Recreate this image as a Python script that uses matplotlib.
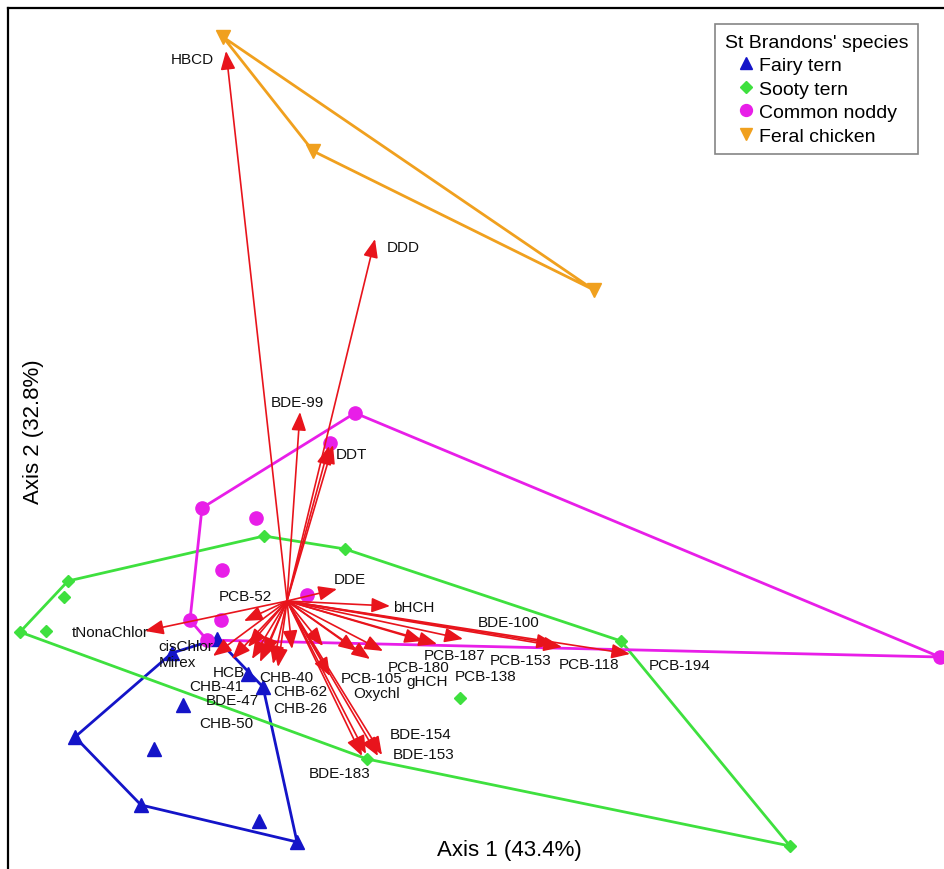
import numpy as np
import matplotlib
matplotlib.use("Agg")
import matplotlib.pyplot as plt
from matplotlib.lines import Line2D

plt.rcParams["font.family"] = ["Liberation Sans", "DejaVu Sans"]

# sample scores on the first two axes, per species
fairy_x = [-0.70, -1.15, -0.39, -0.24, -1.04, -2.12, -1.33, -1.46, -0.28, 0.10]
fairy_y = [-0.38, -0.52, -0.73, -0.86, -1.04, -1.36, -1.48, -2.04, -2.20, -2.41]

sooty_x = [-2.67, -2.19, -2.23, -2.41, -0.23, 0.58, 3.34, 1.73, 0.80, 5.03]
sooty_y = [-0.31, 0.20, 0.04, -0.30, 0.65, 0.52, -0.40, -0.97, -1.58, -2.45]

noddy_x = [0.68, 0.43, -0.85, -0.31, -0.65, -0.97, -0.66, 0.20, -0.80, 6.53]
noddy_y = [1.88, 1.58, 0.93, 0.83, 0.31, -0.19, -0.19, 0.06, -0.39, -0.56]

chicken_x = [-0.64, 0.26, 3.07]
chicken_y = [5.64, 4.50, 3.11]

# contaminant loadings (arrow tips)
var_names = ["HBCD", "DDD", "BDE-99", "DDT", "DDE", "bHCH", "PCB-52", "tNonaChlor",
             "cisChlor", "Mirex", "HCB", "CHB-41", "BDE-47", "CHB-50", "CHB-40",
             "CHB-62", "CHB-26", "PCB-105", "Oxychl", "gHCH", "PCB-180", "PCB-187",
             "PCB-138", "PCB-153", "BDE-100", "PCB-118", "PCB-194", "BDE-183",
             "BDE-154", "BDE-153", "CHB-32", "DDT-2", "BDE-28"]
var_x = [-0.61, 0.88, 0.13, 0.42, 0.50, 1.03, -0.43, -1.42,
         -0.74, -0.55, -0.39, -0.35, -0.27, -0.23, -0.14,
         -0.09, 0.05, 0.70, 0.43, 0.96, 0.83, 1.50,
         1.36, 1.76, 2.68, 2.75, 3.43, 0.75,
         0.79, 0.95, 0.36, 0.46, 0.91]
var_y = [5.50, 3.62, 1.89, 1.55, 0.12, -0.05, -0.20, -0.30,
         -0.55, -0.58, -0.46, -0.58, -0.61, -0.55, -0.63,
         -0.66, -0.48, -0.50, -0.75, -0.50, -0.58, -0.43,
         -0.40, -0.38, -0.43, -0.46, -0.53, -1.55,
         -1.53, -1.54, -0.45, 1.56, -1.55]

# where each variable name is written
label_pos = {
    "HBCD": (-0.95, 5.42), "DDD": (1.16, 3.54), "BDE-99": (0.10, 1.99),
    "DDT": (0.64, 1.47), "DDE": (0.63, 0.22), "bHCH": (1.27, -0.06),
    "PCB-52": (-0.42, 0.05), "tNonaChlor": (-1.77, -0.31),
    "cisChlor": (-1.01, -0.45), "Mirex": (-1.10, -0.61), "HCB": (-0.58, -0.71),
    "CHB-41": (-0.71, -0.85), "BDE-47": (-0.55, -0.99), "CHB-50": (-0.61, -1.22),
    "CHB-40": (-0.01, -0.76), "CHB-62": (0.13, -0.90), "CHB-26": (0.13, -1.07),
    "PCB-105": (0.85, -0.77), "Oxychl": (0.90, -0.92), "gHCH": (1.40, -0.80),
    "PCB-180": (1.32, -0.66), "PCB-187": (1.68, -0.54), "PCB-138": (1.99, -0.75),
    "PCB-153": (2.34, -0.59), "BDE-100": (2.22, -0.21), "PCB-118": (3.02, -0.63),
    "PCB-194": (3.93, -0.64), "BDE-183": (0.53, -1.72), "BDE-154": (1.34, -1.33),
    "BDE-153": (1.37, -1.53),
}


def convex_hull(xs, ys):
    pts = sorted(set(zip(xs, ys)))

    def cross(o, a, b):
        return (a[0] - o[0]) * (b[1] - o[1]) - (a[1] - o[1]) * (b[0] - o[0])

    lower, upper = [], []
    for p in pts:
        while len(lower) >= 2 and cross(lower[-2], lower[-1], p) <= 0:
            lower.pop()
        lower.append(p)
    for p in reversed(pts):
        while len(upper) >= 2 and cross(upper[-2], upper[-1], p) <= 0:
            upper.pop()
        upper.append(p)
    hull = lower[:-1] + upper[:-1]
    hull.append(hull[0])
    return np.array(hull)


fig = plt.figure(figsize=(9.44, 8.70), dpi=100)
ax = fig.add_axes([8 / 944, 0, 1 - 8 / 944, 1 - 9 / 870])
ax.set_xlim(-2.79, 6.57)
ax.set_ylim(-2.68, 5.93)

species = [
    ("Fairy tern", fairy_x, fairy_y, "#1414c8", "^", 9.5),
    ("Sooty tern", sooty_x, sooty_y, "#3ee03e", "D", 6.5),
    ("Common noddy", noddy_x, noddy_y, "#e81ee8", "o", 9.5),
    ("Feral chicken", chicken_x, chicken_y, "#f0a01e", "v", 9.5),
]

handles = []
for name, xs, ys, col, mk, ms in species:
    hull = convex_hull(xs, ys)
    ax.plot(hull[:, 0], hull[:, 1], color=col, lw=2.0, zorder=2)
    ax.plot(xs, ys, ls="none", marker=mk, ms=ms, color=col, mec=col, zorder=3, clip_on=False)
    handles.append(Line2D([], [], ls="none", marker=mk, ms=ms * 0.9, color=col, label=name))

red = "#e8141c"
for name, vx, vy in zip(var_names, var_x, var_y):
    ax.annotate("", xy=(vx, vy), xytext=(0, 0),
                arrowprops=dict(arrowstyle="-|>,head_length=0.8,head_width=0.32",
                                color=red, lw=1.2, shrinkA=0, shrinkB=0,
                                mutation_scale=14),
                zorder=4)
    if name in label_pos:
        lx, ly = label_pos[name]
        ax.text(lx, ly, name, fontsize=11, ha="center", va="center", color="#111111", zorder=5)

ax.text((509 - 8) / 936, (870 - 851) / 861, "Axis 1 (43.4%)", transform=ax.transAxes,
        fontsize=16, ha="center", va="center")
ax.text((33 - 8) / 936, (870 - 432) / 861, "Axis 2 (32.8%)", transform=ax.transAxes,
        fontsize=16, ha="center", va="center", rotation=90)

leg = ax.legend(handles=handles, title="St Brandons' species", loc="upper right",
                bbox_to_anchor=(0.9725, 0.981), fontsize=14, title_fontsize=14,
                frameon=True, fancybox=False, borderpad=0.5, handletextpad=0.15,
                handlelength=1.0, labelspacing=0.3, borderaxespad=0)
leg.get_frame().set_edgecolor("#666666")
leg.get_frame().set_linewidth(1.2)
leg._legend_box.sep = 4

ax.set_xticks([])
ax.set_yticks([])
for side in ("right", "bottom"):
    ax.spines[side].set_visible(False)
for side in ("left", "top"):
    ax.spines[side].set_linewidth(1.6)
    ax.spines[side].set_color("black")

fig.savefig("out.png", dpi=100)
